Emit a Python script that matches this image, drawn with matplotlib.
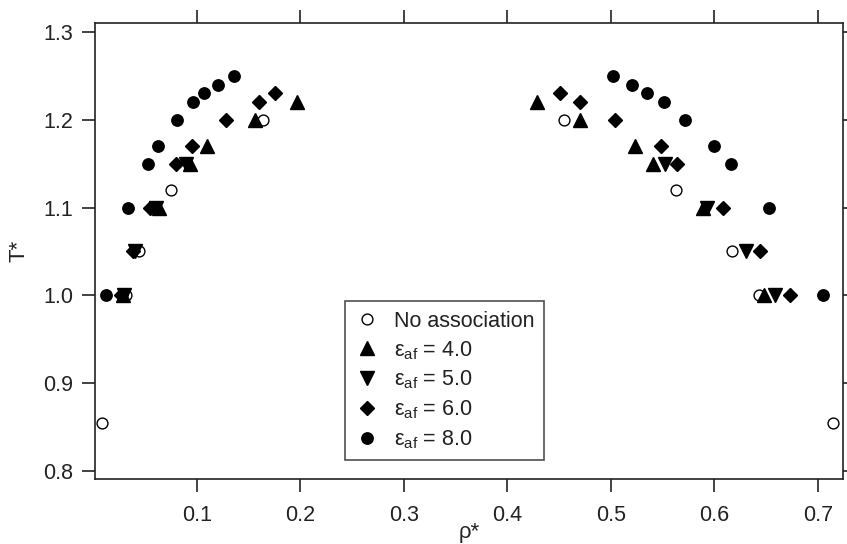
import numpy as np
import matplotlib
matplotlib.use("Agg")
import matplotlib.pyplot as plt

plt.rcParams['font.family'] = ['Liberation Sans', 'DejaVu Sans']
plt.rcParams['mathtext.fontset'] = 'custom'
plt.rcParams['mathtext.rm'] = 'Liberation Sans'
plt.rcParams['mathtext.it'] = 'Liberation Sans'

# data: (rho*, T*) for each series
rho_noassoc = [0.0087, 0.032, 0.044, 0.075, 0.164, 0.455, 0.563, 0.617, 0.643, 0.715]
T_noassoc = [0.855, 1.00, 1.05, 1.12, 1.20, 1.20, 1.12, 1.05, 1.00, 0.855]

rho_e4 = [0.029, 0.063, 0.093, 0.110, 0.156, 0.197, 0.429, 0.470, 0.523, 0.541, 0.589, 0.648]
T_e4 = [1.00, 1.10, 1.15, 1.17, 1.20, 1.22, 1.22, 1.20, 1.17, 1.15, 1.10, 1.00]

rho_e5 = [0.030, 0.040, 0.061, 0.090, 0.552, 0.593, 0.631, 0.659]
T_e5 = [1.00, 1.05, 1.10, 1.15, 1.15, 1.10, 1.05, 1.00]

rho_e6 = [0.027, 0.038, 0.055, 0.080, 0.095, 0.128, 0.160, 0.176,
          0.451, 0.470, 0.504, 0.548, 0.564, 0.608, 0.644, 0.673]
T_e6 = [1.00, 1.05, 1.10, 1.15, 1.17, 1.20, 1.22, 1.23,
        1.23, 1.22, 1.20, 1.17, 1.15, 1.10, 1.05, 1.00]

rho_e8 = [0.0126, 0.0338, 0.0531, 0.0628, 0.0812, 0.0966, 0.107, 0.120, 0.136,
          0.502, 0.520, 0.535, 0.551, 0.572, 0.600, 0.616, 0.653, 0.705]
T_e8 = [1.00, 1.10, 1.15, 1.17, 1.20, 1.22, 1.23, 1.24, 1.25,
        1.25, 1.24, 1.23, 1.22, 1.20, 1.17, 1.15, 1.10, 1.00]

xticks = [0.1, 0.2, 0.3, 0.4, 0.5, 0.6, 0.7]
yticks = [0.8, 0.9, 1.0, 1.1, 1.2, 1.3]

fig = plt.figure(figsize=(8.47, 5.44), dpi=100)
ax = fig.add_axes([0.112, 0.1195, 0.883, 0.838])

ax.plot(rho_noassoc, T_noassoc, 'o', ms=7.8, mfc='white', mec='black', mew=1.0,
        ls='none', label='No association')
ax.plot(rho_e4, T_e4, '^', ms=9.5, color='black', ls='none',
        label=r'ε$_{\mathregular{af}}$ = 4.0')
ax.plot(rho_e5, T_e5, 'v', ms=9.5, color='black', ls='none',
        label=r'ε$_{\mathregular{af}}$ = 5.0')
ax.plot(rho_e6, T_e6, 'D', ms=7.2, color='black', ls='none',
        label=r'ε$_{\mathregular{af}}$ = 6.0')
ax.plot(rho_e8, T_e8, 'o', ms=8.2, color='black', ls='none',
        label=r'ε$_{\mathregular{af}}$ = 8.0')

ax.set_xlim(0.0015, 0.724)
ax.set_ylim(0.791, 1.310)
ax.set_xticks(xticks)
ax.set_yticks(yticks)
ax.set_xticklabels(['%.1f' % v for v in xticks])
ax.set_yticklabels(['%.1f' % v for v in yticks])

ax.tick_params(direction='out', length=9.5, width=1.2, labelsize=15.5, color='#222222',
               labelcolor='#222222', top=True, right=True)
ax.tick_params(axis='x', pad=9)
ax.tick_params(axis='y', pad=6)
for sp in ax.spines.values():
    sp.set_linewidth(1.2)
    sp.set_color('#222222')

ax.set_xlabel('ρ*', fontsize=16, color='#222222', labelpad=-3)
ax.set_ylabel('T*', fontsize=16, color='#222222', labelpad=10)

leg = ax.legend(loc='upper left', bbox_to_anchor=(0.334, 0.390), fontsize=15.5,
                frameon=True, fancybox=False, edgecolor='#222222',
                borderpad=0.45, labelspacing=0.33, handletextpad=0.65,
                handlelength=1.2, borderaxespad=0)
leg.get_frame().set_linewidth(1.2)
for t in leg.get_texts():
    t.set_color('#222222')

fig.savefig('out.png', dpi=100)
